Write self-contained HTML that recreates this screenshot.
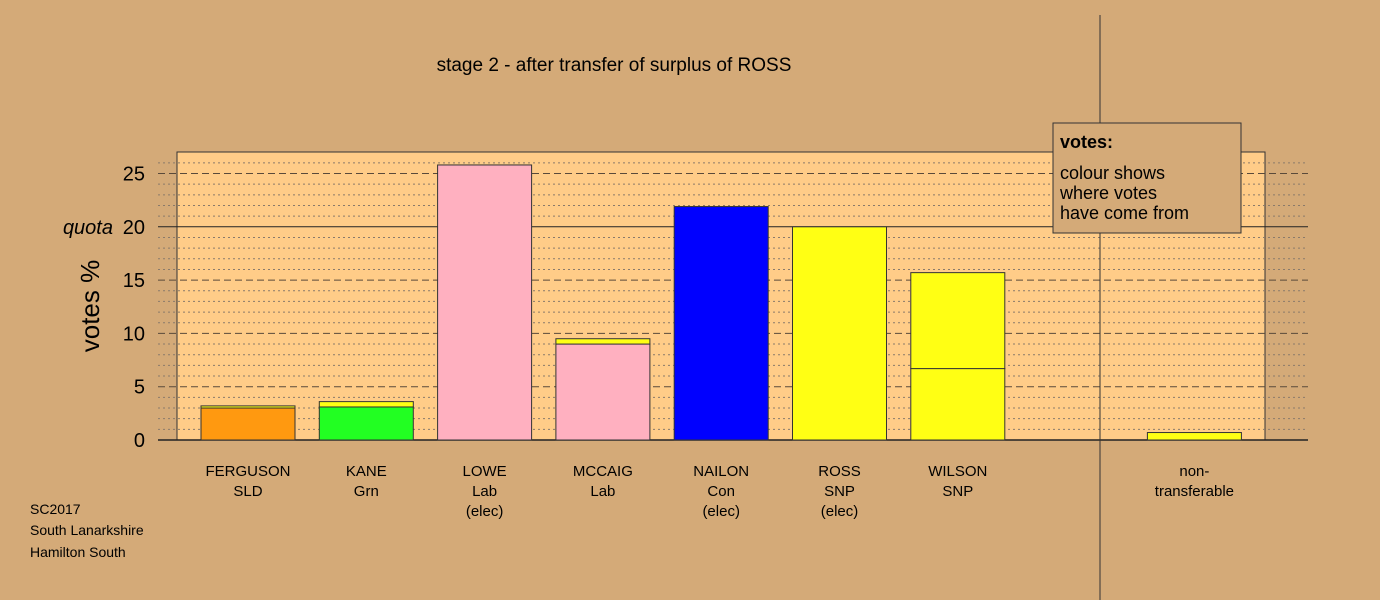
<!DOCTYPE html>
<html><head><meta charset="utf-8"><style>
body{margin:0;background:#d4aa78;}
svg{display:block;font-family:"Liberation Sans",sans-serif;}
</style></head><body>
<svg id="c" width="1380" height="600">
<rect x="0" y="0" width="1380" height="600" fill="#d4aa78"/>
<rect x="177" y="152" width="1088" height="288" fill="#ffcc88" stroke="#333" stroke-width="1"/>
<g id="grid"></g>
<g id="bars"></g>
<g id="xlabels" font-size="15" text-anchor="middle" fill="#000"></g>
<g id="ylabels" font-size="20" text-anchor="end" fill="#000"></g>
<line x1="1100" y1="15" x2="1100" y2="600" stroke="#333" stroke-width="1"/>
<text x="614" y="71" font-size="19" text-anchor="middle">stage 2 - after transfer of surplus of ROSS</text>
<text x="99" y="306" font-size="26" text-anchor="middle" transform="rotate(-90 99 306)">votes %</text>
<g>
<rect x="1053" y="123" width="188" height="110" fill="#d4aa78" stroke="#333"/>
<text x="1060" y="148" font-size="18" font-weight="bold">votes:</text>
<text x="1060" y="179" font-size="18">colour shows</text>
<text x="1060" y="199" font-size="18">where votes</text>
<text x="1060" y="219" font-size="18">have come from</text>
</g>
<g font-size="14">
<text x="30" y="514">SC2017</text>
<text x="30" y="535">South Lanarkshire</text>
<text x="30" y="557">Hamilton South</text>
</g>
</svg>
<script>
const categories=["FERGUSON\nSLD","KANE\nGrn","LOWE\nLab\n(elec)","MCCAIG\nLab","NAILON\nCon\n(elec)","ROSS\nSNP\n(elec)","WILSON\nSNP","","non-\ntransferable"];
const baseVotes=[3.0,3.1,25.8,9.0,21.9,20.0,6.7,0,0];
const transferVotes=[0.2,0.5,0,0.5,0,0,9.0,0,0.7];
const baseColors=["#ff9910","#22ff22","#ffb0c0","#ffb0c0","#0000ff","#ffff14","#ffff14","#ffff14","#ffff14"];
const yTicks=[0,5,10,15,20,25];
const quota=20;
const yMax=27;
const NS="http://www.w3.org/2000/svg";
const y0=440,ppu=10.66;
function yS(v){return y0-v*ppu;}
function xS(i){return 201+i*118.3;}
const bw=94;
function mk(tag,attrs,parent){const e=document.createElementNS(NS,tag);for(const k in attrs)e.setAttribute(k,attrs[k]);parent.appendChild(e);return e;}
const grid=document.getElementById('grid');
for(let v=1;v<=26;v++){
  const l=mk('line',{x1:158,x2:1308,y1:yS(v),y2:yS(v),stroke:v===quota?'#222':(v%5===0?'#5a4a3a':'#8a7a6a'),'stroke-width':1,'stroke-dasharray':v===quota?'none':(v%5===0?'7,4':'2,3')},grid);
  
  
}
const ax=mk('line',{x1:158,x2:1308,y1:y0,y2:y0,stroke:'#222','stroke-width':1.5},grid);


const bars=document.getElementById('bars');
categories.forEach((c,i)=>{
  if(baseVotes[i]>0){
    const r=mk('rect',{x:xS(i),y:yS(baseVotes[i]),width:bw,height:baseVotes[i]*ppu,fill:baseColors[i],stroke:'#333','stroke-width':1},bars);
    
    
  }
  if(transferVotes[i]>0){
    const t=mk('rect',{x:xS(i),y:yS(baseVotes[i]+transferVotes[i]),width:bw,height:transferVotes[i]*ppu,fill:'#ffff14',stroke:'#333','stroke-width':1},bars);
    
    
  }
  const xl=document.getElementById('xlabels');
  c.split('\n').forEach((line,j)=>{
    const tx=mk('text',{x:xS(i)+bw/2,y:476+j*20},xl);
    tx.textContent=line;
    
    
  });
});
const yl=document.getElementById('ylabels');
yTicks.forEach(v=>{
  const t=mk('text',{x:145,y:yS(v)+7},yl);
  t.textContent=v;
  
  
});
const q=mk('text',{x:113,y:yS(quota)+7,'font-style':'italic'},yl);
q.textContent='quota';


</script>
</body></html>
